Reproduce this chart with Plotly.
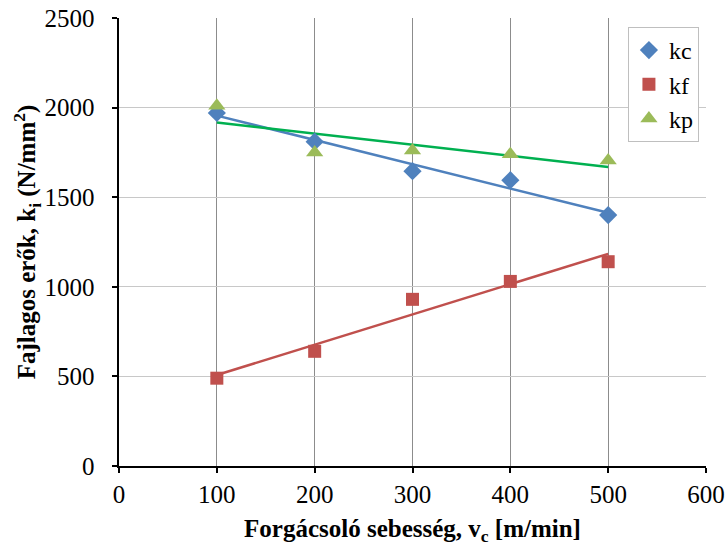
import numpy as np
import plotly.graph_objects as go

vc = [100, 200, 300, 400, 500]
kc = [1970, 1810, 1645, 1595, 1400]
kf = [490, 640, 930, 1030, 1140]
kp = [2010, 1750, 1760, 1740, 1705]

series = [
    ("kc", kc, "#4F81BD", "diamond", 14, "#4F81BD"),
    ("kf", kf, "#C0504D", "square", 13, "#C0504D"),
    ("kp", kp, "#9BBB59", "triangle-up", 15, "#00B050"),
]

FAM = "Liberation Serif"

fig = go.Figure()
for name, vals, col, sym, sz, lcol in series:
    a, b = np.polyfit(vc, vals, 1)
    xs = [vc[0], vc[-1]]
    fig.add_trace(go.Scatter(x=xs, y=[a * x + b for x in xs], mode="lines",
                             line=dict(color=lcol, width=2.5), showlegend=False,
                             hoverinfo="skip"))
for name, vals, col, sym, sz, lcol in series:
    fig.add_trace(go.Scatter(x=vc, y=vals, mode="markers", name=name,
                             legendgroup=name,
                             marker=dict(symbol=sym, size=sz, color=col,
                                         line=dict(width=0))))

tickfont = dict(family=FAM, size=25, color="black")
titlefont = dict(family=FAM, size=25, color="black")

common = dict(showline=True, linecolor="black", linewidth=2, ticks="outside",
              ticklen=5, tickwidth=1.5, tickcolor="black", zeroline=False,
              tickfont=tickfont, automargin=False, gridwidth=1.3, showgrid=True)

fig.update_layout(
    width=728, height=547,
    margin=dict(l=119, r=22, t=18, b=81),
    paper_bgcolor="white", plot_bgcolor="white",
    font=dict(family=FAM, size=25, color="black"),
    legend=dict(x=0.867, y=0.98, xanchor="left", yanchor="top",
                bordercolor="#BFBFBF", borderwidth=1, bgcolor="white",
                font=dict(family=FAM, size=24, color="black"), itemwidth=30,
                traceorder="grouped", tracegroupgap=0),
    xaxis=dict(range=[0, 600], dtick=100, tick0=0, gridcolor="#8C8C8C",
               title=dict(text="<b>Forgácsoló sebesség, v<sub>c</sub> [m/min]</b>",
                          font=titlefont, standoff=12), **common),
    yaxis=dict(range=[0, 2500], dtick=500, tick0=0, gridcolor="#C8C8C8",
               ticksuffix="\u00a0\u00a0",
               title=dict(text="<b>Fajlagos erők, k<sub>i</sub> (N/mm<sup>2</sup>)</b>",
                          font=titlefont, standoff=0), **common),
)

fig.write_html("out.html")
